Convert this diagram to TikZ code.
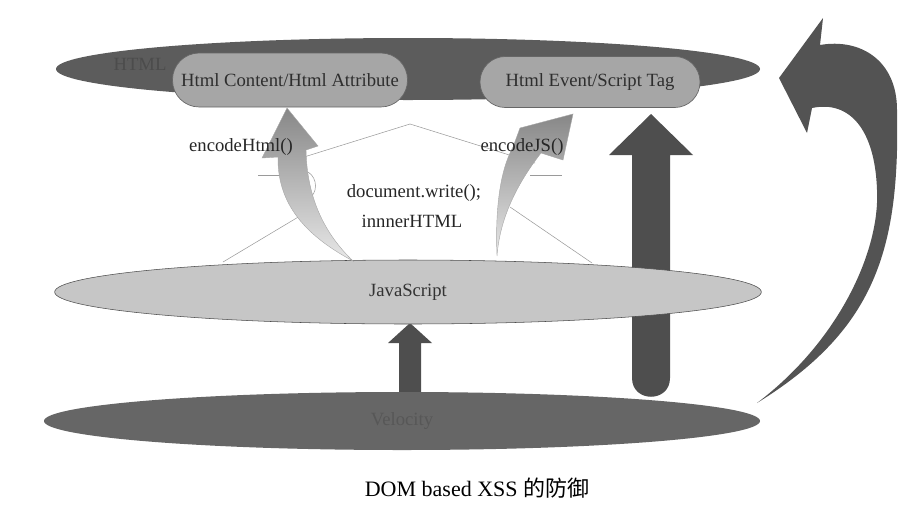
\documentclass[tikz,border=0pt]{standalone}
\usepackage{fontspec}
\setmainfont{Liberation Serif}
\newfontfamily\cjk{Noto Sans CJK SC}
\usetikzlibrary{shapes.geometric}
\definecolor{darkfill}{HTML}{5C5C5C}
\definecolor{velfill}{HTML}{666666}
\definecolor{pillfill}{HTML}{A6A6A6}
\definecolor{jsfill}{HTML}{C6C6C6}
\definecolor{barfill}{HTML}{4E4E4E}
\definecolor{thinline}{HTML}{9A9A9A}
\tikzset{
  layer/.style={ellipse, inner sep=0pt},
  pill/.style={rectangle, fill=pillfill, draw=gray!80!black, line width=0.5pt, inner sep=0pt, font=\fontsize{14}{16}\selectfont, text=black!82},
  lbl/.style={font=\fontsize{14}{16}\selectfont, text=black!85, inner sep=0pt},
  blockarrow/.style={fill=barfill, draw=none},
  encarrow/.style={top color={rgb,255:red,135;green,135;blue,135}, bottom color={rgb,255:red,232;green,232;blue,232}, draw=gray!70, line width=0.3pt},
  guide/.style={draw=thinline, line width=0.4pt}
}
\begin{document}
\begin{tikzpicture}[x=0.75pt,y=-0.75pt]
\useasboundingbox (0,0) rectangle (898,507);
% top HTML layer
\node[layer, fill=darkfill, minimum width=528pt, minimum height=46.5pt] (html) at (408,69) {};
\node[lbl, text=black!70] (htmllbl) at (140,64) {HTML};
\node[pill, minimum width=176.25pt, minimum height=40.5pt, rounded corners=20pt] (content) at (290,80) {Html Content/Html Attribute};
\node[pill, minimum width=165pt, minimum height=38.25pt, rounded corners=19pt] (event) at (590,82) {Html Event/Script Tag};
% tall arrow Velocity -> Html Event
\path[blockarrow] (651,114) -- (693,155) -- (670,155) -- (670,378) .. controls (670,403) and (632,403) .. (632,378) -- (632,155) -- (609,155) -- cycle;
% small arrow Velocity -> JavaScript
\path[blockarrow] (410,323) -- (432,343) -- (421,343) -- (421,405) -- (399,405) -- (399,343) -- (388,343) -- cycle;
% JavaScript layer
\node[layer, fill=jsfill, draw=gray!60!black, line width=0.4pt, minimum width=530pt, minimum height=48pt, font=\fontsize{14}{16}\selectfont, text=black!80] (js) at (408,292) {JavaScript};
% Velocity layer
\node[layer, fill=velfill, minimum width=537pt, minimum height=43.5pt, font=\fontsize{14}{16}\selectfont, text=black!66] (vel) at (402,421) {Velocity};
% thin guide lines
\draw[guide] (223,262) -- (305,213);
\draw[guide] (258,175) -- (300,175);
\draw[guide] (288,162) -- (410,124) -- (535,163);
\draw[guide] (530,175) -- (562,175);
\draw[guide] (510,207) -- (592,263);
\draw[guide] (308,172) .. controls (318,178) and (318,194) .. (308,199);
% encodeHtml arrow
\path[encarrow] (287,108) -- (318,146) -- (306,150) .. controls (307,200) and (326,235) .. (353,261) .. controls (314,240) and (277,210) .. (278,157) -- (262,158) -- cycle;
% encodeJS arrow
\path[encarrow] (573,114) -- (563,160) -- (541,153) .. controls (520,180) and (500,215) .. (497,256) .. controls (495,210) and (500,170) .. (513,147) -- (520,128) -- cycle;
% labels
\node[lbl] (ench) at (241,147) {encodeHtml()};
\node[lbl] (encj) at (522,147) {encodeJS()};
\node[lbl] (docw) at (414,193) {document.write();};
\node[lbl] (inner) at (412,221) {innnerHTML};
% big curved arrow
\path[blockarrow, fill=darkfill!90!black] (779,78) -- (823,18) -- (820,45) .. controls (860,38) and (897,60) .. (897,110) .. controls (900,250) and (875,330) .. (757,403) .. controls (840,340) and (880,250) .. (877,190) .. controls (875,130) and (850,100) .. (812,108) -- (807,133) -- cycle;
% caption
\node[font=\fontsize{16.5}{18}\selectfont, inner sep=0pt] (cap) at (477,488) {DOM based XSS {\cjk 的防御}};
\end{tikzpicture}
\end{document}
